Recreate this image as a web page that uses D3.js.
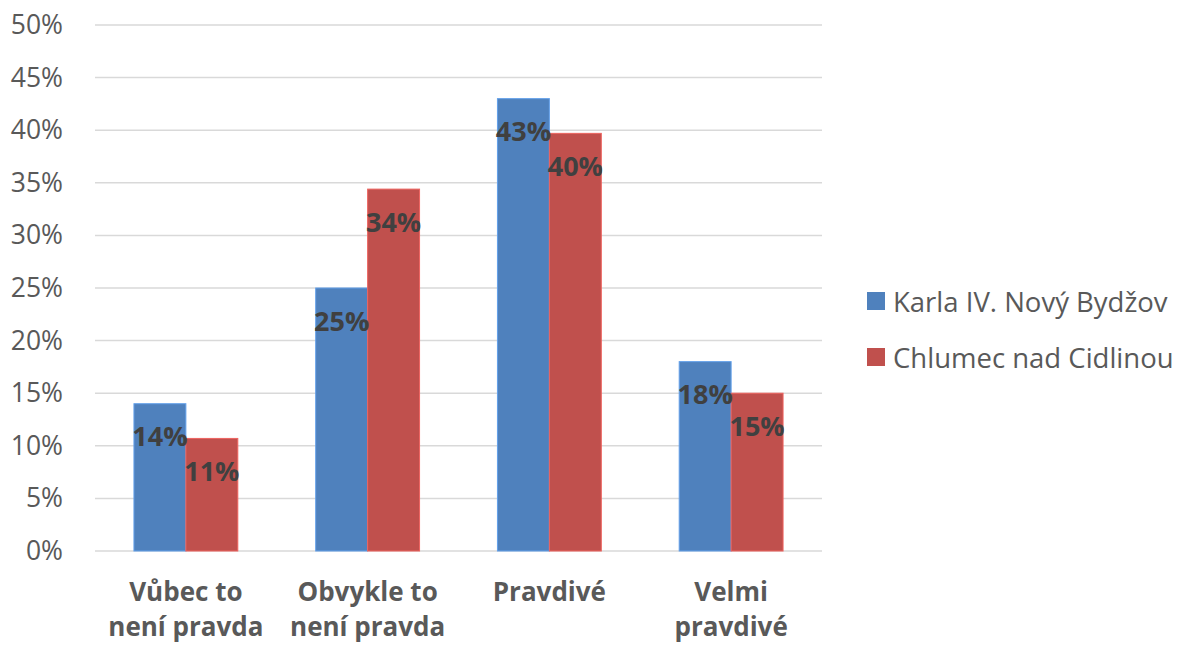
<!DOCTYPE html>
<html>
<head>
<meta charset="utf-8">
<script src="https://cdn.jsdelivr.net/npm/d3@7"></script>
<style>
  html, body { margin: 0; padding: 0; background: #fff; }
  svg { display: block; font-family: "Open Sans", "Noto Sans", sans-serif; }
</style>
</head>
<body>
<svg id="chart" width="1180" height="646"></svg>
<script>
// Answer categories (each label split into its two display lines)
const categories = ["Vůbec to není pravda", "Obvykle to není pravda", "Pravdivé", "Velmi pravdivé"];
const categoryLines = [["Vůbec to", "není pravda"], ["Obvykle to", "není pravda"], ["Pravdivé"], ["Velmi", "pravdivé"]];

// Schools compared
const seriesNames = ["Karla IV. Nový Bydžov", "Chlumec nad Cidlinou"];
const seriesColors = ["#4f81bd", "#c0504d"];

// Share of answers per category
const karlaValues = [0.14, 0.25, 0.43, 0.18];
const chlumecValues = [0.107, 0.344, 0.397, 0.15];

// Y axis ticks
const yTicks = [0, 0.05, 0.10, 0.15, 0.20, 0.25, 0.30, 0.35, 0.40, 0.45, 0.50];

const seriesValues = [karlaValues, chlumecValues];

const svg = d3.select("#chart");
const margin = { left: 95, right: 358, top: 25, bottom: 95 };
const W = 1180, H = 646;
const plotW = W - margin.left - margin.right;
const plotH = H - margin.top - margin.bottom;

const x = d3.scaleBand().domain(categories).range([0, plotW]).padding(0);
const xs = d3.scaleBand().domain(seriesNames).range([0, x.bandwidth()])
  .paddingInner(0).paddingOuter(0.75);
const y = d3.scaleLinear().domain([0, 0.5]).range([plotH, 0]);

const g = svg.append("g").attr("transform", `translate(${margin.left},${margin.top})`);

// Horizontal gridlines
g.append("g")
  .selectAll("line")
  .data(yTicks)
  .join("line")
  .attr("x1", 0).attr("x2", plotW)
  .attr("y1", d => y(d)).attr("y2", d => y(d))
  .attr("stroke", "#d9d9d9").attr("stroke-width", 1.5);

// Y axis labels
const yAxis = d3.axisLeft(y).tickValues(yTicks).tickFormat(d3.format(".0%")).tickSize(0).tickPadding(32);
const yg = g.append("g").call(yAxis);
yg.select(".domain").remove();
yg.selectAll("text")
  .attr("font-family", "'Open Sans', sans-serif")
  .attr("font-size", 26.5)
  .attr("fill", "#595959");

// Bars
const rows = categories.map((c, i) => seriesNames.map((s, j) => ({ cat: c, series: s, j, value: seriesValues[j][i] })));
const groups = g.append("g").selectAll("g")
  .data(rows)
  .join("g")
  .attr("transform", d => `translate(${x(d[0].cat)},0)`);

groups.selectAll("rect")
  .data(d => d)
  .join("rect")
  .attr("x", d => xs(d.series))
  .attr("y", d => y(d.value))
  .attr("width", xs.bandwidth())
  .attr("height", d => y(0) - y(d.value))
  .attr("fill", d => seriesColors[d.j])
  .attr("stroke", d => d3.color(seriesColors[d.j]).brighter(0.6))
  .attr("stroke-width", 1);

// Value labels inside the top of each bar
groups.selectAll("text")
  .data(d => d)
  .join("text")
  .attr("x", d => xs(d.series) + xs.bandwidth() / 2)
  .attr("y", d => y(d.value) + 32)
  .attr("text-anchor", "middle")
  .attr("dominant-baseline", "central")
  .attr("font-size", 27)
  .attr("font-weight", "bold")
  .attr("fill", "#404040")
  .text(d => d3.format(".0%")(d.value));

// Category labels
const catG = g.append("g").selectAll("text")
  .data(categories)
  .join("text")
  .attr("x", d => x(d) + x.bandwidth() / 2)
  .attr("y", plotH + 50)
  .attr("text-anchor", "middle")
  .attr("font-size", 26)
  .attr("font-weight", "bold")
  .attr("fill", "#595959");
catG.selectAll("tspan")
  .data((d, i) => categoryLines[i])
  .join("tspan")
  .attr("x", function () { return this.parentNode.getAttribute("x"); })
  .attr("dy", (d, i) => i === 0 ? 0 : 35)
  .text(d => d);

// Legend
const legend = svg.append("g").attr("transform", "translate(867,292)");
const items = legend.selectAll("g")
  .data(seriesNames)
  .join("g")
  .attr("transform", (d, i) => `translate(0,${i * 56})`);
items.append("rect")
  .attr("width", 18).attr("height", 18)
  .attr("fill", (d, i) => seriesColors[i]);
items.append("text")
  .attr("x", 26).attr("y", 9)
  .attr("dominant-baseline", "central")
  .attr("font-size", 27.5)
  .attr("fill", "#595959")
  .text(d => d);
</script>
</body>
</html>
